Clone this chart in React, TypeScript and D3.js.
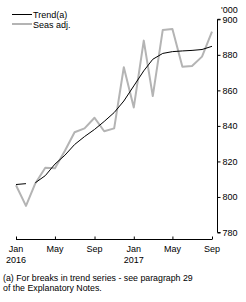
import React, { useEffect, useRef } from "react";
import * as d3 from "d3";

// monthly, Jan 2016 - Sep 2017
const months = [
  "2016-01", "2016-02", "2016-03", "2016-04", "2016-05", "2016-06", "2016-07",
  "2016-08", "2016-09", "2016-10", "2016-11", "2016-12", "2017-01", "2017-02",
  "2017-03", "2017-04", "2017-05", "2017-06", "2017-07", "2017-08", "2017-09",
];
// trend has a break after Feb 2016
const trendA = [807.0, 807.5];
const trendB = [
  808.0, 812.0, 818.5, 823.5, 829.5, 834.0, 838.0, 842.5, 847.5, 854.0,
  862.5, 871.0, 877.5, 880.8, 881.8, 882.2, 882.5, 883.0, 884.8,
];
const seasAdj = [
  806.6, 795.0, 807.6, 816.4, 816.2, 826.0, 836.4, 838.6, 844.6, 837.0,
  838.6, 873.0, 850.4, 888.0, 856.8, 894.0, 894.5, 873.3, 873.7, 879.0, 893.0,
];
const yTicks = [780, 800, 820, 840, 860, 880, 900];
const xTickMonths = ["2016-01", "2016-05", "2016-09", "2017-01", "2017-05", "2017-09"];
const monthNames = ["Jan", "Feb", "Mar", "Apr", "May", "Jun", "Jul", "Aug", "Sep", "Oct", "Nov", "Dec"];

const FONT = "'Liberation Sans', Arial, sans-serif";

export default function App() {
  const ref = useRef<SVGSVGElement>(null);

  useEffect(() => {
    const svg = d3.select(ref.current);
    svg.selectAll("*").remove();

    const parse = d3.timeParse("%Y-%m");
    const dates = months.map((m) => parse(m) as Date);

    const x = d3.scaleTime()
      .domain([dates[0], dates[dates.length - 1]])
      .range([16, 212]);
    const y = d3.scaleLinear().domain([780, 900]).range([232.5, 19.3]);

    const line = d3.line<[Date, number]>()
      .x((d) => x(d[0]))
      .y((d) => y(d[1]));

    // seas adj
    svg.append("path")
      .datum(dates.map((d, i) => [d, seasAdj[i]] as [Date, number]))
      .attr("d", line)
      .attr("fill", "none")
      .attr("stroke", "#b4b4b4")
      .attr("stroke-width", 2)
      .attr("stroke-linejoin", "round");

    // trend, two pieces
    const trendPieces = [
      trendA.map((v, i) => [dates[i], v] as [Date, number]),
      trendB.map((v, i) => [dates[i + trendA.length], v] as [Date, number]),
    ];
    trendPieces.forEach((p) => {
      svg.append("path")
        .datum(p)
        .attr("d", line)
        .attr("fill", "none")
        .attr("stroke", "#000")
        .attr("stroke-width", 1);
    });

    // y axis on the right
    const yAxis = d3.axisRight(y).tickValues(yTicks).tickSize(3).tickPadding(2);
    svg.append("g")
      .attr("transform", "translate(217.5,0)")
      .style("font-family", FONT)
      .style("font-size", "9px")
      .call(yAxis)
      .call((g) => g.select(".domain").attr("d", `M3,${y(900)}H0V${y(780)}H3`))
      .call((g) => g.selectAll("text").attr("fill", "#000"));

    svg.append("text")
      .attr("x", 221)
      .attr("y", 13)
      .style("font-family", FONT)
      .style("font-size", "9px")
      .text("'000");

    // x axis
    const xAxis = d3.axisTop(x)
      .tickValues(xTickMonths.map((m) => parse(m) as Date))
      .tickSize(3)
      .tickFormat(() => "");
    svg.append("g")
      .attr("transform", "translate(0,239.5)")
      .call(xAxis)
      .call((g) => g.select(".domain").attr("d", `M${x(dates[0])},0H${x(dates[dates.length - 1])}`));

    const labels = svg.append("g")
      .style("font-family", FONT)
      .style("font-size", "9px")
      .attr("text-anchor", "middle");
    xTickMonths.forEach((m) => {
      const d = parse(m) as Date;
      const t = labels.append("text").attr("x", x(d)).attr("y", 252);
      t.append("tspan").attr("x", x(d)).text(monthNames[d.getMonth()]);
      if (d.getMonth() === 0) {
        t.append("tspan").attr("x", x(d)).attr("dy", 11).text(String(d.getFullYear()));
      }
    });

    // legend
    const legend = svg.append("g")
      .style("font-family", FONT)
      .style("font-size", "9px");
    legend.append("line")
      .attr("x1", 12).attr("x2", 32).attr("y1", 14.5).attr("y2", 14.5)
      .attr("stroke", "#000").attr("stroke-width", 1);
    legend.append("text").attr("x", 33).attr("y", 17.5).text("Trend(a)");
    legend.append("line")
      .attr("x1", 12).attr("x2", 32).attr("y1", 24).attr("y2", 24)
      .attr("stroke", "#b4b4b4").attr("stroke-width", 2);
    legend.append("text").attr("x", 33).attr("y", 27.5).text("Seas adj.");

    // footnote
    const note = svg.append("g")
      .style("font-family", FONT)
      .style("font-size", "8.8px");
    note.append("text").attr("x", 3).attr("y", 281).text("(a) For breaks in trend series - see paragraph 29");
    note.append("text").attr("x", 3).attr("y", 291).text("of the Explanatory Notes.");
  }, []);

  return (
    <svg
      ref={ref}
      width={246}
      height={302}
      style={{ position: "absolute", left: 0, top: 0, background: "#fff" }}
    />
  );
}
